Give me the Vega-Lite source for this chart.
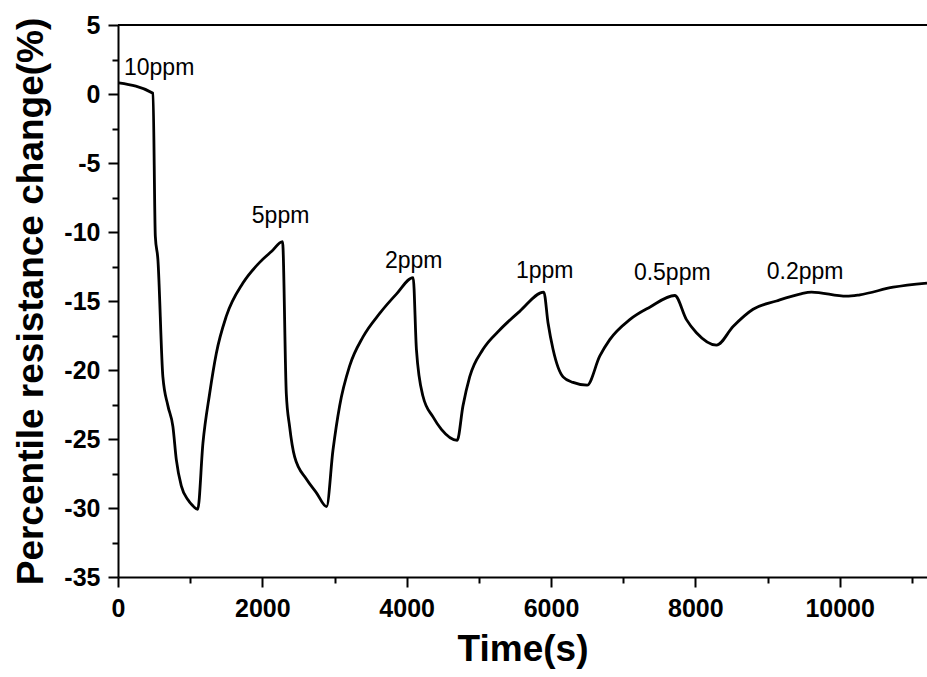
{
  "$schema": "https://vega.github.io/schema/vega-lite/v6.json",
  "autosize": "none",
  "width": 809,
  "height": 552,
  "padding": {"left": 118, "top": 25, "right": 0, "bottom": 100},
  "background": "white",
  "config": {
    "view": {"stroke": null},
    "axis": {
      "domainColor": "black",
      "domainWidth": 2,
      "tickColor": "black",
      "tickWidth": 2,
      "labelColor": "black",
      "labelFont": "Liberation Sans",
      "labelFontWeight": "bold",
      "labelFontSize": 25,
      "labelFlush": false,
      "titleFont": "Liberation Sans",
      "titleFontWeight": "bold",
      "titleFontSize": 37,
      "titleColor": "black",
      "grid": false
    }
  },
  "datasets": {
    "curve": [
      {"time": 10, "change": 0.8},
      {"time": 485, "change": 0.05},
      {"time": 517, "change": -10.3},
      {"time": 553, "change": -12.0},
      {"time": 622, "change": -20.5},
      {"time": 692, "change": -22.6},
      {"time": 761, "change": -24.1},
      {"time": 808, "change": -26.5},
      {"time": 877, "change": -28.4},
      {"time": 969, "change": -29.4},
      {"time": 1030, "change": -29.8},
      {"time": 1105, "change": -30.1},
      {"time": 1177, "change": -25.3},
      {"time": 1270, "change": -21.7},
      {"time": 1362, "change": -18.8},
      {"time": 1501, "change": -16.1},
      {"time": 1731, "change": -13.7},
      {"time": 1963, "change": -12.2},
      {"time": 2130, "change": -11.4},
      {"time": 2280, "change": -10.7},
      {"time": 2332, "change": -21.7},
      {"time": 2378, "change": -24.1},
      {"time": 2448, "change": -26.3},
      {"time": 2610, "change": -27.9},
      {"time": 2750, "change": -28.9},
      {"time": 2890, "change": -29.9},
      {"time": 2979, "change": -25.8},
      {"time": 3071, "change": -22.6},
      {"time": 3210, "change": -19.7},
      {"time": 3395, "change": -17.6},
      {"time": 3626, "change": -15.9},
      {"time": 3857, "change": -14.5},
      {"time": 4090, "change": -13.3},
      {"time": 4135, "change": -18.5},
      {"time": 4226, "change": -21.9},
      {"time": 4365, "change": -23.4},
      {"time": 4481, "change": -24.3},
      {"time": 4700, "change": -25.1},
      {"time": 4780, "change": -22.6},
      {"time": 4873, "change": -20.5},
      {"time": 5058, "change": -18.5},
      {"time": 5289, "change": -17.1},
      {"time": 5566, "change": -15.75},
      {"time": 5900, "change": -14.35},
      {"time": 5959, "change": -16.6},
      {"time": 6028, "change": -18.5},
      {"time": 6167, "change": -20.5},
      {"time": 6305, "change": -20.9},
      {"time": 6500, "change": -21.1},
      {"time": 6675, "change": -19.0},
      {"time": 6814, "change": -17.8},
      {"time": 7091, "change": -16.35},
      {"time": 7368, "change": -15.45},
      {"time": 7715, "change": -14.6},
      {"time": 7877, "change": -16.35},
      {"time": 8015, "change": -17.3},
      {"time": 8293, "change": -18.2},
      {"time": 8523, "change": -16.85},
      {"time": 8800, "change": -15.6},
      {"time": 9124, "change": -15.0},
      {"time": 9447, "change": -14.5},
      {"time": 9609, "change": -14.35},
      {"time": 10095, "change": -14.65},
      {"time": 10279, "change": -14.55},
      {"time": 10741, "change": -14.0},
      {"time": 11210, "change": -13.7}
    ],
    "labels": [
      {"label": "10ppm", "time": 570, "change": 1.9},
      {"label": "5ppm", "time": 2253, "change": -8.87},
      {"label": "2ppm", "time": 4098, "change": -12.13},
      {"label": "1ppm", "time": 5913, "change": -12.85},
      {"label": "0.5ppm", "time": 7680, "change": -12.97},
      {"label": "0.2ppm", "time": 9521, "change": -12.93}
    ],
    "border": [{"change": 5}]
  },
  "layer": [
    {
      "data": {"name": "curve"},
      "mark": {"type": "line", "color": "black", "strokeWidth": 2.8, "strokeJoin": "round", "interpolate": "monotone"},
      "encoding": {
        "x": {
          "field": "time", "type": "quantitative",
          "scale": {"domain": [0, 11210], "nice": false, "zero": false},
          "axis": {
            "orient": "bottom",
            "title": "Time(s)",
            "values": [0, 2000, 4000, 6000, 8000, 10000],
            "format": "d",
            "tickSize": 10,
            "labelPadding": 9,
            "titlePadding": 10
          }
        },
        "y": {
          "field": "change", "type": "quantitative",
          "scale": {"domain": [-35, 5], "nice": false, "zero": false},
          "axis": {
            "orient": "left",
            "title": "Percentile resistance change(%)",
            "values": [-35, -30, -25, -20, -15, -10, -5, 0, 5],
            "labelExpr": "'' + datum.value",
            "tickSize": 10,
            "labelPadding": 8,
            "titlePadding": 13
          }
        }
      }
    },
    {
      "data": {"name": "labels"},
      "mark": {"type": "text", "font": "Liberation Sans", "fontSize": 23, "color": "black", "align": "center", "baseline": "middle"},
      "encoding": {
        "x": {
          "field": "time", "type": "quantitative",
          "axis": {
            "orient": "bottom",
            "title": null,
            "values": [1000, 3000, 5000, 7000, 9000, 11000],
            "labels": false,
            "domain": false,
            "tickSize": 6
          }
        },
        "y": {
          "field": "change", "type": "quantitative",
          "axis": {
            "orient": "left",
            "title": null,
            "values": [-32.5, -27.5, -22.5, -17.5, -12.5, -7.5, -2.5, 2.5],
            "labels": false,
            "domain": false,
            "tickSize": 6
          }
        },
        "text": {"field": "label"}
      }
    },
    {
      "data": {"name": "border"},
      "mark": {"type": "rule", "color": "black", "strokeWidth": 2},
      "encoding": {
        "y": {"field": "change", "type": "quantitative", "axis": null}
      }
    }
  ],
  "resolve": {"axis": {"x": "independent", "y": "independent"}}
}
